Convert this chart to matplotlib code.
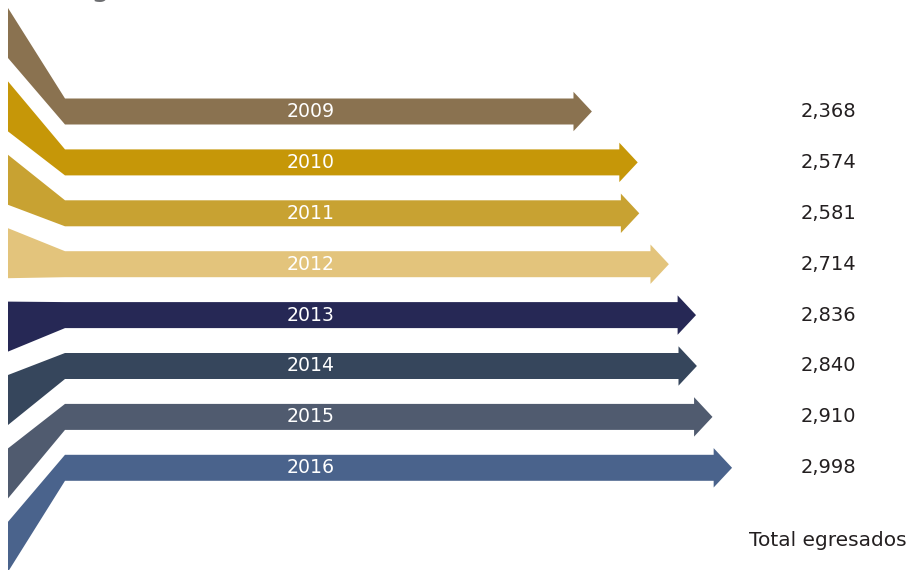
import matplotlib
matplotlib.use("Agg")
import matplotlib.pyplot as plt
from matplotlib.patches import Polygon
import matplotlib.transforms as mtransforms

# ---- data ----
years = ["2009", "2010", "2011", "2012", "2013", "2014", "2015", "2016"]
totals = [2368, 2574, 2581, 2714, 2836, 2840, 2910, 2998]
value_labels = ["2,368", "2,574", "2,581", "2,714", "2,836", "2,840", "2,910", "2,998"]
footer_label = "Total egresados"

# ---- style ----
colors = ["#8a7250", "#c69708", "#c8a232", "#e3c47c",
          "#262855", "#36465c", "#505b6f", "#4a638c"]

W, H = 919, 570
fig = plt.figure(figsize=(W / 100, H / 100), dpi=100)
ax = fig.add_axes([0, 0, 1, 1])
ax.set_axis_off()

# x in value units (bend at 0), y in row units (row centres 0..7)
px_per_val = 0.2225
bend_px = 65
row_px = 50.9
row0_px = 111.5
ax.set_xlim(-bend_px / px_per_val, (W - bend_px) / px_per_val)
ax.set_ylim((H - row0_px) / row_px, -row0_px / row_px)

left_x = (8 - bend_px) / px_per_val
bar_half = 13.0 / row_px
head_half = 19.7 / row_px
head_len = 18.4 / px_per_val
left_top0 = (8 - row0_px) / row_px
left_step = 73.4 / row_px
left_h = 50.0 / row_px
label_x = (311 - bend_px) / px_per_val

for i, (yr, val, col) in enumerate(zip(years, totals, colors)):
    c = i
    lt = left_top0 + left_step * i
    lb = lt + left_h
    bt, bb = c - bar_half, c + bar_half
    hx = val - head_len
    pts = [(left_x, lt), (0, bt), (hx, bt), (hx, c - head_half), (val, c),
           (hx, c + head_half), (hx, bb), (0, bb), (left_x, lb)]
    ax.add_patch(Polygon(pts, closed=True, facecolor=col, edgecolor="none"))
    ax.text(label_x, c, yr, color="white", fontsize=13.6, ha="center",
            va="center", family="DejaVu Sans")

trans = mtransforms.blended_transform_factory(fig.transFigure, ax.transData)
val_xf = 828 / W
for i, lab in enumerate(value_labels):
    ax.text(val_xf, i, lab, transform=trans, color="#231f20", fontsize=14,
            ha="center", va="center", family="DejaVu Sans")

fig.text(val_xf, 1 - 541 / H, footer_label, color="#231f20", fontsize=14.5,
         ha="center", va="center", family="DejaVu Sans")

# cropped title descender at the top
fig.text(100 / W, 1 + 4 / H, "g", color="#6d6e71", fontsize=22,
         ha="center", va="baseline", family="DejaVu Sans")

fig.savefig("out.png", dpi=100)
